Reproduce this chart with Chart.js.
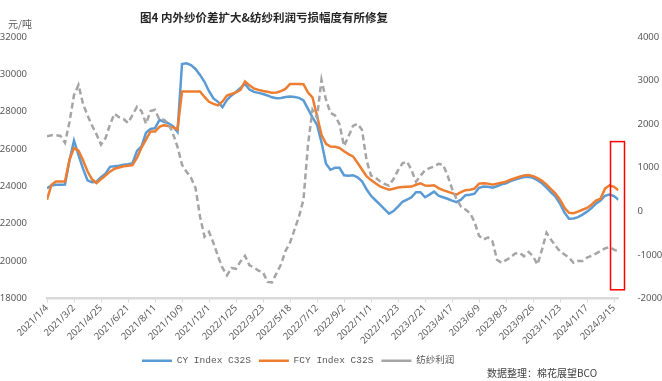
<!DOCTYPE html>
<html>
<head>
<meta charset="utf-8">
<script src="https://cdn.jsdelivr.net/npm/chart.js@4/dist/chart.umd.min.js"></script>
<style>
html,body{margin:0;padding:0;background:#fff;}
#wrap{width:662px;height:381px;position:relative;}
</style>
</head>
<body>
<div id="wrap"><canvas id="c" width="662" height="381"></canvas></div>
<script>
// ---- text ----
const titleText = '图4 内外纱价差扩大&纺纱利润亏损幅度有所修复';
const unitText = '元/吨';
const sourceText = '数据整理：棉花展望BCO';
const seriesNames = ['CY Index C32S', 'FCY Index C32S', '纺纱利润'];

// ---- x tick labels (one every 6 samples) ----
const tickLabels = ['2021/1/4','2021/3/2','2021/4/25','2021/6/21','2021/8/11','2021/10/9','2021/12/1',
  '2022/1/25','2022/3/23','2022/5/18','2022/7/12','2022/9/2','2022/11/1','2022/12/23',
  '2023/2/21','2023/4/17','2023/6/9','2023/8/3','2023/9/26','2023/11/23','2024/1/17','2024/3/15'];
const samplesPerLabel = 6;

// ---- series values ----
const cyIndex = [
  23900,24050,24090,24090,24100,25400,26450,25670,24950,24330,
  24220,24250,24490,24680,25050,25080,25110,25160,25190,25240,
  25900,26140,26870,27080,27120,27560,27460,27380,27220,26920,
  30550,30590,30500,30290,29970,29600,29100,28710,28530,28250,
  28630,28870,29060,29270,29490,29190,29060,29010,28950,28870,
  28770,28720,28740,28790,28810,28790,28740,28610,28150,27700,
  27300,26360,25210,24890,25000,25000,24600,24570,24600,24490,
  24280,23850,23500,23260,23020,22780,22540,22680,22920,23180,
  23290,23420,23690,23690,23420,23560,23720,23500,23420,23340,
  23240,23160,23290,23530,23560,23610,23930,24000,23980,23930,
  24010,24110,24170,24280,24370,24440,24500,24520,24460,24330,
  24170,23930,23680,23450,23080,22600,22270,22280,22360,22490,
  22650,22840,23080,23240,23500,23560,23480,23290
];
const fcyIndex = [
  23290,24090,24270,24270,24270,25430,26050,25910,25400,24810,
  24380,24180,24390,24580,24790,24950,25010,25080,25110,25140,
  25540,26070,26500,26940,26940,27190,27280,27230,27160,27050,
  29080,29080,29080,29080,29080,28790,28530,28420,28340,28550,
  28870,28950,29030,29170,29620,29410,29240,29170,29110,29070,
  29010,29030,29100,29220,29490,29490,29490,29470,29030,28770,
  27780,26760,26280,26140,26120,26060,25880,25730,25610,25270,
  24910,24550,24340,24170,24000,23910,23820,23880,23940,23970,
  23980,23990,24090,24170,24050,24040,24060,23910,23800,23720,
  23640,23560,23690,23800,23820,23880,24150,24170,24150,24090,
  24150,24200,24250,24360,24440,24520,24590,24610,24550,24440,
  24300,24100,23860,23620,23290,22860,22590,22570,22650,22750,
  22850,23020,23240,23340,23880,24060,23980,23800
];
const spinProfit = [
  1720,1745,1745,1730,1570,2050,2670,2900,2470,2200,
  1970,1770,1530,1680,1990,2240,2160,2120,2030,2210,
  2400,2300,2010,2300,2330,2100,2100,2010,1780,1480,
  1070,910,770,540,-120,-580,-470,-730,-1030,-1300,
  -1470,-1300,-1320,-1150,-1020,-1240,-1290,-1360,-1400,-1620,
  -1630,-1420,-1220,-910,-720,-420,-120,270,1530,2330,
  2150,3020,2560,2260,2200,2000,1500,1720,1960,2010,
  1870,1180,820,770,690,630,590,740,940,1100,
  1140,950,680,820,940,990,1030,1090,1070,830,
  520,280,110,40,-40,-240,-560,-650,-600,-690,
  -1110,-1180,-1120,-1060,-970,-950,-1030,-930,-1030,-1220,
  -880,-490,-650,-790,-920,-990,-1060,-1180,-1140,-1140,
  -1060,-1020,-970,-910,-850,-820,-880,-920
];

// ---- highlight box (value range on right axis) ----
const boxTop = 1600, boxBottom = -1800;

const toXY = arr => arr.map((v, i) => ({x: i, y: v}));
const lastIdx = cyIndex.length - 1;

const tickFont = {family: '"Noto Sans", "Liberation Sans", sans-serif', size: 9.5};
const plainNum = v => String(v);

const decor = {
  id: 'decor',
  afterLayout(chart) {
    const lg = chart.legend;
    if (lg) { const w = lg.right - lg.left; lg.left = 134; lg.right = 134 + w; }
  },
  afterDatasetsDraw(chart) {
    const {ctx, scales: {x, y1}} = chart;
    const xe = x.getPixelForValue(lastIdx);
    const t = y1.getPixelForValue(boxTop), b = y1.getPixelForValue(boxBottom);
    ctx.save();
    ctx.strokeStyle = '#FF0000';
    ctx.lineWidth = 1.5;
    ctx.strokeRect(xe - 8, t, 14, b - t);
    ctx.restore();
  },
  afterDraw(chart) {
    const ctx = chart.ctx;
    ctx.save();
    ctx.textBaseline = 'middle';
    ctx.textAlign = 'center';
    ctx.fillStyle = '#262626';
    ctx.font = 'bold 11.5px "Noto Sans CJK SC", sans-serif';
    ctx.fillText(titleText, 264, 18);
    ctx.textAlign = 'left';
    ctx.fillStyle = '#595959';
    ctx.font = '10px "Noto Sans CJK SC", sans-serif';
    ctx.fillText(unitText, 8, 24);
    ctx.fillStyle = '#404040';
    ctx.fillText(sourceText, 487, 373);
    ctx.restore();
  }
};

new Chart(document.getElementById('c'), {
  type: 'line',
  data: {
    datasets: [
      {label: seriesNames[0], data: toXY(cyIndex), yAxisID: 'y', borderColor: '#5B9BD5', backgroundColor: '#5B9BD5',
       borderWidth: 2.5, pointRadius: 0, tension: 0, order: 2},
      {label: seriesNames[1], data: toXY(fcyIndex), yAxisID: 'y', borderColor: '#ED7D31', backgroundColor: '#ED7D31',
       borderWidth: 2.5, pointRadius: 0, tension: 0, order: 1},
      {label: seriesNames[2], data: toXY(spinProfit), yAxisID: 'y1', borderColor: '#A5A5A5', backgroundColor: '#A5A5A5',
       borderWidth: 2.5, borderDash: [6, 3.5], pointRadius: 0, tension: 0, order: 0}
    ]
  },
  options: {
    responsive: false,
    animation: false,
    devicePixelRatio: 1,
    layout: {padding: {left: 0, right: 0, top: 37, bottom: 5.5}},
    plugins: {
      title: {display: false},
      tooltip: {enabled: false},
      legend: {
        display: true,
        position: 'bottom',
        align: 'start',
        labels: {
          usePointStyle: true,
          pointStyle: 'line',
          pointStyleWidth: 30,
          padding: 8,
          color: '#595959',
          font: {family: '"Liberation Mono", "Noto Sans CJK SC", monospace', size: 9.5},
          sort: (a, b) => a.datasetIndex - b.datasetIndex
        }
      }
    },
    scales: {
      x: {
        type: 'linear',
        min: 0,
        max: lastIdx,
        grid: {display: true, drawOnChartArea: false, drawTicks: true, tickLength: 4, color: '#D9D9D9'},
        border: {display: true, color: '#D9D9D9', width: 2.5},
        ticks: {
          stepSize: samplesPerLabel,
          includeBounds: false,
          autoSkip: false,
          maxRotation: 45,
          minRotation: 45,
          padding: 0,
          color: '#595959',
          font: tickFont,
          callback: v => (v % samplesPerLabel === 0 ? tickLabels[v / samplesPerLabel] : '')
        },
        afterFit: s => { s.height = 49.5; }
      },
      y: {
        position: 'left',
        min: 18000,
        max: 32000,
        grid: {display: false},
        border: {display: false},
        ticks: {stepSize: 2000, padding: 12, color: '#595959', font: tickFont, callback: plainNum},
        afterFit: s => { s.width = 47; }
      },
      y1: {
        position: 'right',
        min: -2000,
        max: 4000,
        grid: {display: false},
        border: {display: false},
        ticks: {stepSize: 1000, padding: 11, color: '#595959', font: tickFont, callback: plainNum},
        afterFit: s => { s.width = 43.5; }
      }
    }
  },
  plugins: [decor]
});
</script>
</body>
</html>
